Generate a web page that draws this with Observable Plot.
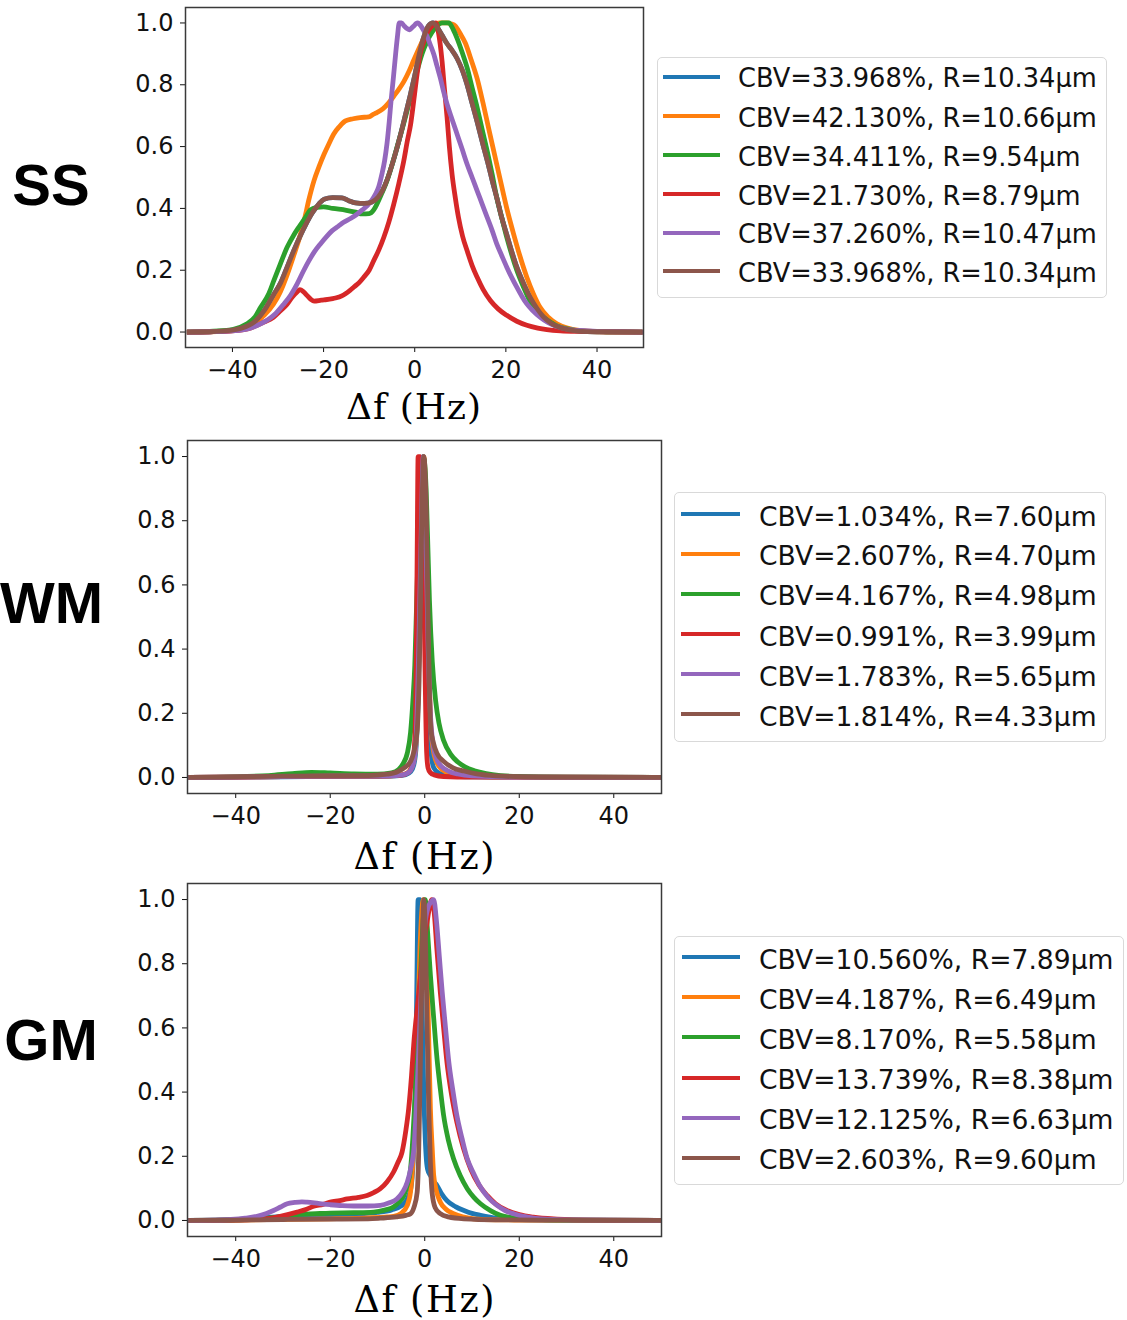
<!DOCTYPE html>
<html><head><meta charset="utf-8">
<script src="https://cdn.jsdelivr.net/npm/d3@7"></script>
<script src="https://cdn.jsdelivr.net/npm/@observablehq/plot@0.6"></script>
<style>
body{margin:0;background:#fff;}
#root{position:relative;width:1127px;height:1320px;background:#fff;overflow:hidden;font-family:"DejaVu Sans",sans-serif;}
.rowlabel{position:absolute;left:0;width:102px;text-align:center;font-family:"Liberation Sans",Arial,sans-serif;font-weight:bold;font-size:58px;line-height:1;color:#000;}
.xlabel{position:absolute;font-family:"DejaVu Serif",serif;line-height:0.85;white-space:nowrap;transform:translateX(-50%);color:#000;}
.legend{position:absolute;border:1.5px solid #d9d9d9;border-radius:5px;background:#fff;box-sizing:border-box;}
.sw{position:absolute;height:4px;}
.lt{position:absolute;line-height:1;white-space:nowrap;color:#111;font-family:"DejaVu Sans",sans-serif;}
.plotwrap{position:absolute;}
</style></head>
<body><div id="root"></div>
<script>
// ---------- colours (matplotlib tab10) ----------
const colors = ["#1f77b4", "#ff7f0e", "#2ca02c", "#d62728", "#9467bd", "#8c564b"];

// ---------- tick values ----------
const xTicks = [-40, -20, 0, 20, 40];
const yTicks = [0, 0.2, 0.4, 0.6, 0.8, 1.0];

// ---------- SS ----------
const ssLabels = ["CBV=33.968%, R=10.34μm", "CBV=42.130%, R=10.66μm", "CBV=34.411%, R=9.54μm",
  "CBV=21.730%, R=8.79μm", "CBV=37.260%, R=10.47μm", "CBV=33.968%, R=10.34μm"];
const ss_brown = [[-50,0],[-45,0.001],[-40,0.006],[-37,0.018],[-35,0.035],[-33,0.07],[-31,0.12],[-29.4,0.16],[-28,0.21],[-26.5,0.265],[-25,0.315],[-24,0.345],[-22.5,0.385],[-21,0.415],[-19.9,0.43],[-18,0.435],[-16,0.434],[-14.5,0.425],[-13,0.418],[-11,0.416],[-9.5,0.42],[-8,0.437],[-7,0.46],[-6,0.495],[-5,0.54],[-4,0.59],[-3,0.645],[-2,0.705],[-1,0.765],[0,0.83],[1,0.9],[2,0.955],[3,0.99],[4,1.0],[5,0.985],[6,0.96],[7,0.935],[8,0.915],[9.3,0.885],[10.5,0.845],[11.5,0.8],[12.5,0.745],[13.7,0.68],[15,0.605],[16,0.55],[17,0.49],[18,0.435],[19,0.375],[20.2,0.315],[21.3,0.26],[22.4,0.21],[23.8,0.16],[25.3,0.113],[26.8,0.077],[28.3,0.048],[30,0.028],[32.7,0.011],[36,0.003],[40,0.001],[50,0]];
const ss_blue = ss_brown.map(d => [d[0], d[1]]); // identical parameters (CBV=33.968%, R=10.34μm)
const ss_orange = [[-50,0],[-45,0.001],[-40,0.005],[-37,0.015],[-35,0.03],[-33,0.055],[-31,0.09],[-29.5,0.13],[-28,0.185],[-26.5,0.25],[-25.2,0.31],[-24.2,0.365],[-23.2,0.43],[-22.1,0.49],[-21,0.535],[-19.9,0.575],[-18.8,0.61],[-17.8,0.64],[-16.5,0.665],[-15.2,0.683],[-13.5,0.69],[-12,0.694],[-10.1,0.696],[-9,0.705],[-8.3,0.71],[-7,0.722],[-5.8,0.74],[-4.6,0.763],[-3.5,0.785],[-2.4,0.81],[-1.2,0.845],[-0.2,0.88],[1,0.92],[2,0.95],[3,0.975],[4.2,0.995],[5.5,1.0],[7,1.0],[8,0.997],[8.9,0.99],[10,0.965],[11.1,0.935],[12.4,0.88],[13.7,0.82],[15,0.74],[16.2,0.66],[17.5,0.575],[18.8,0.49],[20.2,0.4],[21.7,0.317],[23.1,0.245],[24.6,0.177],[26,0.125],[27.5,0.08],[29.3,0.048],[31.2,0.027],[33.5,0.013],[36.3,0.005],[40,0.001],[50,0]];
const ss_green = [[-50,0],[-45,0.002],[-40,0.008],[-37,0.025],[-35,0.05],[-33.8,0.08],[-32,0.125],[-30.9,0.167],[-29.5,0.22],[-28,0.274],[-26.5,0.315],[-25.4,0.34],[-24,0.37],[-22.9,0.395],[-21.5,0.403],[-20,0.405],[-18,0.4],[-15,0.394],[-13,0.388],[-11.5,0.382],[-10,0.383],[-9,0.395],[-8.3,0.414],[-7.2,0.45],[-6.1,0.489],[-5,0.54],[-3.9,0.597],[-2.8,0.655],[-1.7,0.715],[-0.6,0.78],[0.5,0.844],[1.6,0.9],[2.7,0.94],[3.8,0.97],[4.9,0.99],[6,1.0],[7.5,1.0],[8.4,0.98],[9.3,0.95],[10.4,0.905],[11.5,0.855],[12.6,0.79],[13.7,0.726],[14.8,0.655],[15.9,0.586],[17,0.51],[18,0.435],[19.1,0.37],[20.2,0.306],[21.3,0.25],[22.4,0.2],[23.8,0.148],[25.3,0.1],[26.8,0.07],[28.3,0.048],[30,0.03],[31.2,0.02],[34,0.009],[37,0.003],[42,0.001],[50,0]];
const ss_red = [[-50,0],[-45,0.001],[-40,0.004],[-36.7,0.01],[-33.1,0.032],[-31,0.048],[-29.4,0.07],[-28,0.09],[-26.9,0.113],[-25.8,0.13],[-25.2,0.137],[-24.4,0.13],[-23.6,0.118],[-22.8,0.106],[-22.1,0.1],[-20.5,0.103],[-19.9,0.104],[-18,0.108],[-17.4,0.11],[-16,0.117],[-15.2,0.124],[-14.2,0.135],[-13.4,0.145],[-12.2,0.16],[-11.2,0.177],[-10,0.2],[-9,0.231],[-7.9,0.265],[-6.8,0.306],[-5.7,0.355],[-4.6,0.414],[-3.5,0.48],[-2.4,0.554],[-1.6,0.62],[-0.9,0.672],[-0.2,0.75],[0.5,0.833],[1.2,0.9],[2,0.94],[3,0.975],[3.8,0.99],[4.6,1.0],[5.2,0.97],[5.6,0.93],[6,0.876],[6.5,0.79],[7.1,0.694],[7.6,0.6],[8.2,0.51],[8.9,0.435],[9.6,0.371],[10.5,0.31],[11.5,0.263],[12.6,0.215],[13.7,0.177],[15,0.138],[16.6,0.102],[18.3,0.075],[20.2,0.054],[22.4,0.035],[24.6,0.022],[27,0.013],[29,0.008],[32,0.004],[36.3,0.002],[42,0.001],[50,0]];
const ss_purple = [[-50,0],[-45,0.001],[-40,0.004],[-36.7,0.01],[-34.5,0.022],[-32.4,0.038],[-30.5,0.06],[-28.7,0.091],[-27.2,0.12],[-25.8,0.156],[-24.5,0.195],[-23.2,0.231],[-22,0.26],[-20.7,0.285],[-19.4,0.308],[-18.1,0.328],[-16.8,0.342],[-15.6,0.355],[-14,0.368],[-12.6,0.382],[-11.5,0.395],[-10.4,0.409],[-9.5,0.425],[-8.6,0.446],[-7.9,0.47],[-7.2,0.511],[-6.6,0.555],[-6.1,0.608],[-5.6,0.68],[-5.2,0.747],[-4.7,0.82],[-4.2,0.898],[-3.8,0.955],[-3.4,1.0],[-2.9,1.0],[-2.3,0.99],[-1.7,0.982],[-1.1,0.978],[-0.6,0.985],[-0.2,0.99],[0.3,0.998],[0.7,1.0],[1.1,0.995],[1.6,0.985],[2.1,0.972],[2.7,0.957],[3.4,0.93],[4.2,0.898],[4.9,0.86],[5.6,0.823],[6.3,0.78],[7.1,0.737],[8.2,0.688],[9.3,0.64],[10.4,0.592],[11.5,0.543],[12.6,0.5],[13.7,0.457],[14.8,0.414],[15.9,0.371],[17,0.328],[18,0.285],[19.1,0.247],[20.2,0.21],[21.3,0.176],[22.4,0.145],[23.5,0.116],[24.6,0.091],[26,0.068],[27.5,0.048],[29.3,0.03],[31.2,0.018],[33.5,0.009],[36.3,0.005],[40,0.002],[50,0]];

// ---------- WM ----------
const wmLabels = ["CBV=1.034%, R=7.60μm", "CBV=2.607%, R=4.70μm", "CBV=4.167%, R=4.98μm",
  "CBV=0.991%, R=3.99μm", "CBV=1.783%, R=5.65μm", "CBV=1.814%, R=4.33μm"];
const wm_blue = [[-50,0],[-40,0.001],[-30,0.002],[-20,0.003],[-10,0.003],[-6,0.005],[-4,0.009],[-3,0.018],[-2.3,0.04],[-1.8,0.1],[-1.4,0.25],[-1.0,0.55],[-0.6,0.85],[-0.3,1.0],[0.1,0.85],[0.5,0.5],[0.9,0.2],[1.4,0.07],[1.9,0.03],[3,0.013],[5,0.006],[10,0.002],[20,0.001],[50,0]];
const wm_orange = [[-50,0],[-40,0.001],[-30,0.003],[-20,0.004],[-10,0.004],[-6,0.006],[-4,0.012],[-3,0.025],[-2.2,0.06],[-1.6,0.17],[-1.1,0.45],[-0.6,0.8],[-0.2,1.0],[0.3,0.8],[0.8,0.4],[1.3,0.16],[2,0.07],[3,0.035],[4.5,0.017],[7,0.008],[12,0.003],[25,0.001],[50,0]];
const wm_green = [[-50,0],[-40,0.002],[-33,0.006],[-28,0.012],[-24,0.016],[-20,0.014],[-15,0.011],[-10,0.01],[-7,0.014],[-5.5,0.025],[-4.5,0.045],[-3.7,0.075],[-3,0.14],[-2.5,0.24],[-2.1,0.35],[-1.7,0.55],[-1.3,0.75],[-0.8,0.92],[-0.3,1.0],[0.2,0.93],[0.6,0.75],[1.0,0.55],[1.6,0.36],[2.3,0.24],[3,0.17],[4,0.115],[5.5,0.072],[7,0.048],[8.5,0.033],[10.5,0.021],[13,0.012],[16,0.006],[20,0.003],[30,0.001],[50,0]];
const wm_red = [[-50,0],[-40,0.001],[-30,0.003],[-20,0.004],[-10,0.004],[-5,0.007],[-3.5,0.015],[-2.6,0.04],[-2.1,0.12],[-1.8,0.35],[-1.6,0.7],[-1.4,1.0],[-1.0,1.0],[-0.6,0.85],[-0.2,0.6],[0.1,0.3],[0.4,0.08],[0.7,0.03],[1.2,0.015],[2,0.008],[4,0.003],[10,0.001],[50,0]];
const wm_purple = [[-50,0],[-40,0.001],[-30,0.003],[-20,0.004],[-10,0.004],[-6,0.006],[-4,0.011],[-3,0.022],[-2.3,0.05],[-1.8,0.13],[-1.3,0.38],[-0.8,0.72],[-0.3,1.0],[0.2,0.78],[0.7,0.42],[1.2,0.2],[1.8,0.1],[2.6,0.055],[3.5,0.035],[5,0.02],[7,0.011],[10,0.005],[20,0.001],[50,0]];
const wm_brown = [[-50,0],[-40,0.002],[-30,0.004],[-20,0.005],[-12,0.006],[-8,0.01],[-6,0.016],[-4.5,0.028],[-3,0.05],[-2.3,0.08],[-1.8,0.12],[-1.5,0.17],[-1.2,0.3],[-0.9,0.55],[-0.6,0.82],[-0.2,1.0],[0.3,0.85],[0.7,0.5],[1.0,0.26],[1.3,0.15],[1.8,0.11],[2.6,0.075],[4,0.05],[6,0.03],[8.3,0.02],[11,0.011],[15,0.005],[25,0.001],[50,0]];

// ---------- GM ----------
const gmLabels = ["CBV=10.560%, R=7.89μm", "CBV=4.187%, R=6.49μm", "CBV=8.170%, R=5.58μm",
  "CBV=13.739%, R=8.38μm", "CBV=12.125%, R=6.63μm", "CBV=2.603%, R=9.60μm"];
const gm_blue = [[-50,0],[-40,0.003],[-35,0.008],[-30,0.013],[-25,0.016],[-20,0.018],[-15,0.02],[-10,0.025],[-7,0.033],[-5,0.045],[-4,0.06],[-3,0.095],[-2.4,0.2],[-2,0.4],[-1.7,0.7],[-1.4,1.0],[-1.0,1.0],[-0.6,0.7],[-0.2,0.4],[0.3,0.2],[0.6,0.16],[1.2,0.14],[2,0.12],[2.6,0.109],[3.5,0.085],[4.7,0.062],[6.5,0.043],[8.3,0.031],[10,0.022],[11.8,0.016],[15.3,0.007],[20,0.003],[30,0.001],[50,0]];
const gm_orange = [[-50,0],[-40,0.001],[-30,0.003],[-20,0.005],[-12,0.008],[-8,0.011],[-6.6,0.013],[-5,0.022],[-3.7,0.047],[-3,0.09],[-2.3,0.244],[-1.6,0.55],[-1,0.85],[-0.3,1.0],[0.3,0.9],[0.8,0.6],[1.2,0.348],[1.6,0.22],[1.9,0.14],[2.5,0.09],[3.3,0.057],[4.5,0.035],[6.1,0.021],[8,0.011],[10.4,0.005],[15,0.002],[25,0.001],[50,0]];
const gm_green = [[-50,0],[-40,0.002],[-34,0.007],[-30,0.012],[-27,0.018],[-23,0.021],[-20,0.023],[-15,0.024],[-10.8,0.026],[-8.5,0.032],[-6.6,0.042],[-5.5,0.056],[-4.4,0.078],[-3.7,0.11],[-3,0.16],[-2.5,0.26],[-2,0.4],[-1.5,0.58],[-0.9,0.76],[-0.4,0.92],[0.1,1.0],[0.6,0.9],[1.2,0.764],[1.9,0.63],[2.6,0.504],[3.3,0.41],[4,0.327],[5,0.25],[6.1,0.192],[7.5,0.14],[9,0.099],[10.4,0.072],[11.8,0.052],[14,0.03],[16,0.016],[19,0.008],[25,0.003],[35,0.001],[50,0]];
const gm_red = [[-50,0],[-40,0.001],[-34,0.005],[-30.6,0.013],[-27,0.026],[-25,0.035],[-23.5,0.044],[-21.5,0.05],[-20,0.057],[-18,0.062],[-16.4,0.067],[-14,0.072],[-12.2,0.078],[-10.8,0.087],[-9.4,0.099],[-8,0.12],[-6.6,0.151],[-5.7,0.18],[-4.8,0.213],[-4,0.28],[-3.4,0.348],[-2.8,0.45],[-2.3,0.555],[-1.6,0.66],[-0.9,0.76],[-0.2,0.86],[0.5,0.93],[1.0,0.975],[1.5,1.0],[2,0.96],[2.6,0.84],[3.3,0.711],[4,0.6],[4.7,0.493],[5.7,0.39],[6.8,0.306],[8.2,0.225],[9.7,0.161],[11.5,0.11],[13.2,0.078],[15,0.052],[17.4,0.031],[20,0.018],[23,0.01],[28,0.004],[35,0.001],[50,0]];
const gm_purple = [[-50,0],[-45,0.001],[-41,0.003],[-38,0.007],[-35.5,0.013],[-33.5,0.022],[-32,0.031],[-30.5,0.042],[-29.1,0.052],[-27.5,0.056],[-26,0.058],[-24.9,0.057],[-22.5,0.053],[-20,0.049],[-17.5,0.046],[-15,0.045],[-12,0.045],[-9.4,0.047],[-7.5,0.055],[-5.9,0.067],[-4.7,0.088],[-3.7,0.119],[-3,0.16],[-2.3,0.223],[-1.9,0.32],[-1.5,0.45],[-1.0,0.62],[-0.6,0.76],[-0.1,0.9],[0.6,0.97],[1.2,0.99],[1.9,1.0],[2.5,0.93],[3.1,0.82],[3.7,0.711],[4.4,0.6],[5.1,0.493],[5.9,0.41],[6.8,0.327],[7.9,0.255],[9,0.192],[10.4,0.145],[11.8,0.104],[13.5,0.07],[15.3,0.047],[17,0.031],[18.8,0.021],[21.5,0.011],[24.5,0.005],[30,0.002],[50,0]];
const gm_brown = [[-50,0],[-40,0.001],[-30,0.003],[-20,0.004],[-12,0.005],[-9.4,0.007],[-6,0.011],[-4,0.016],[-3,0.021],[-2.3,0.04],[-1.6,0.088],[-1.3,0.2],[-1.1,0.348],[-0.8,0.6],[-0.5,0.85],[-0.2,1.0],[0.2,0.85],[0.5,0.6],[0.85,0.348],[1.2,0.18],[1.55,0.088],[2.2,0.04],[3.3,0.021],[5,0.011],[8.3,0.005],[15,0.002],[30,0.001],[50,0]];

// ---------- layout (positions in page pixels) ----------
const panels = [
  {name: "SS", series: [ss_blue, ss_orange, ss_green, ss_red, ss_purple, ss_brown], labels: ssLabels,
   left: 120, top: 0, mL: 65, mT: 7, fw: 458, fh: 340, xdom: [-50.3, 50.2],
   nameTop: 156, xlab: {top: 392.4, cx: 413.5, fs: 36, ls: 1},
   lg: {l: 656.5, t: 56.5, w: 450, h: 241, sx0: 663, sx1: 720, tx: 738, fs: 25.7, rows: [76.7, 116, 155, 194, 232.7, 271]}},
  {name: "WM", series: [wm_blue, wm_orange, wm_green, wm_red, wm_purple, wm_brown], labels: wmLabels,
   left: 120, top: 433, mL: 67, mT: 7, fw: 474, fh: 353, xdom: [-50.2, 50.1],
   nameTop: 574, xlab: {top: 841.1, cx: 424, fs: 36.5, ls: 1.7},
   lg: {l: 674, t: 492, w: 432, h: 250, sx0: 681, sx1: 740, tx: 759, fs: 26.6, rows: [514.3, 554, 594, 634.3, 674.3, 714.3]}},
  {name: "GM", series: [gm_blue, gm_orange, gm_green, gm_red, gm_purple, gm_brown], labels: gmLabels,
   left: 120, top: 876, mL: 67, mT: 7, fw: 474, fh: 353, xdom: [-50.2, 50.1],
   nameTop: 1011, xlab: {top: 1284.1, cx: 424, fs: 36.5, ls: 1.7},
   lg: {l: 674, t: 936, w: 450, h: 249, sx0: 681.5, sx1: 740, tx: 759, fs: 26.6, rows: [957.3, 997.3, 1037.3, 1077.7, 1117.7, 1157.7]}}
];

const root = document.getElementById("root");

function el(cls, styles, text) {
  const d = document.createElement("div");
  d.className = cls;
  Object.assign(d.style, styles);
  if (text != null) d.textContent = text;
  root.appendChild(d);
  return d;
}

for (const p of panels) {
  const mR = 6, mB = 42;
  const width = p.mL + p.fw + mR;
  const height = p.mT + p.fh + mB;
  const marks = [];
  p.series.forEach((s, i) => {
    marks.push(Plot.line(s, {x: d => d[0], y: d => d[1], stroke: colors[i], strokeWidth: 4.8,
      curve: "monotone-x", clip: true, strokeLinejoin: "round", strokeLinecap: "butt"}));
  });
  marks.push(Plot.axisY({ticks: yTicks, tickFormat: d3.format(".1f"), tickSize: 5, tickPadding: 7, label: null, fontSize: 24}));
  marks.push(Plot.axisX({ticks: xTicks, tickFormat: d3.format("d"), tickSize: 5, tickPadding: 8, label: null, fontSize: 24}));
  marks.push(Plot.frame({stroke: "#3a3a3a", strokeWidth: 1.5}));
  const chart = Plot.plot({
    width, height,
    marginLeft: p.mL, marginTop: p.mT, marginRight: mR, marginBottom: mB,
    x: {domain: p.xdom},
    y: {domain: [-0.05, 1.05]},
    style: {fontFamily: "DejaVu Sans, sans-serif", fontSize: "24px", color: "#111", background: "transparent", overflow: "visible"},
    marks
  });
  const wrap = el("plotwrap", {left: p.left + "px", top: p.top + "px", width: width + "px", height: height + "px"});
  wrap.appendChild(chart);

  // panel name
  el("rowlabel", {top: p.nameTop + "px"}, p.name);
  // x label
  el("xlabel", {left: (p.xlab.cx + p.xlab.ls / 2) + "px", top: p.xlab.top + "px",
    fontSize: p.xlab.fs + "px", letterSpacing: p.xlab.ls + "px"}, "Δf (Hz)");
  // legend
  const g = p.lg;
  el("legend", {left: g.l + "px", top: g.t + "px", width: g.w + "px", height: g.h + "px"});
  p.labels.forEach((lab, i) => {
    const y = g.rows[i];
    el("sw", {left: g.sx0 + "px", top: (y - 2) + "px", width: (g.sx1 - g.sx0) + "px", background: colors[i]});
    el("lt", {left: g.tx + "px", top: (y - 10.4 * g.fs / 25.7) + "px", fontSize: g.fs + "px"}, lab);
  });
}
</script>
</body></html>
